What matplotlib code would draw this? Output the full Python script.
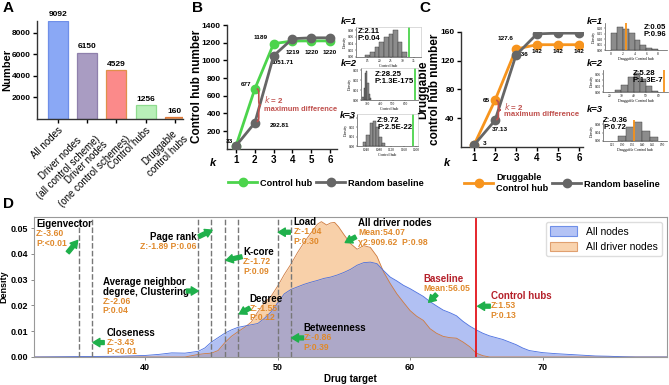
import numpy as np
import matplotlib.pyplot as plt
from matplotlib.path import Path
from matplotlib.patches import PathPatch, Patch
from matplotlib.lines import Line2D

plt.rcParams['font.family'] = ['Liberation Sans', 'DejaVu Sans']

# ---- datos panel A
a_labels = ['All nodes', 'Driver nodes\n(all control scheme)', 'Driver nodes\n(one control schemes)',
            'Control hubs', 'Druggable\ncontrol hubs']
a_values = [9092, 6150, 4529, 1256, 160]
a_colors = ['#8aa8f5', '#a99cc2', '#fb8a8a', '#b8efb8', '#f4a46a']
a_edges = ['#6f8fe8', '#8f80ac', '#e0904a', '#8fdc8f', '#e07a3a']

# ---- datos paneles B y C
k_vals = [1, 2, 3, 4, 5, 6]
b_hub = [33, 677, 1189, 1219, 1220, 1220]
b_random = [33, 292.81, 1051.71, 1245, 1255, 1255]
c_hub = [3, 65, 136, 142, 142, 142]
c_random = [3, 37.13, 127.6, 157, 158, 158]

# histogramas de los recuadros (borde izquierdo del bin, densidad)
b1_bins = [14, 16, 18, 20, 22, 24, 26, 28, 30]
b1_dens = [0.005, 0.015, 0.03, 0.045, 0.06, 0.07, 0.08, 0.045, 0.015]
b2_bins = [260, 270, 280, 290, 300, 310, 320]
b2_dens = [0.003, 0.012, 0.027, 0.029, 0.017, 0.006, 0.002]
b3_bins = [1030, 1040, 1050, 1060, 1070, 1080, 1090]
b3_dens = [0.004, 0.012, 0.024, 0.027, 0.02, 0.01, 0.003]
c1_bins = [0, 1, 2, 3, 4, 5, 6, 7]
c1_dens = [0.16, 0.21, 0.19, 0.16, 0.09, 0.05, 0.02, 0.01]
c2_bins = [25, 30, 35, 40, 45, 50, 55]
c2_dens = [0.008, 0.025, 0.05, 0.065, 0.045, 0.02, 0.005]
c3_bins = [128, 132, 136, 140, 144]
c3_dens = [0.025, 0.065, 0.09, 0.05, 0.02]

# ---- datos panel D
d_all_x = [31.6, 34, 36, 38, 40, 41, 42, 43, 44,
           44.5, 45, 45.5, 46, 46.5, 47, 47.5, 48, 48.5, 49, 49.5, 50, 50.5, 51, 51.5, 52, 52.5,
           53, 53.5, 54, 54.5, 55, 55.5, 56, 56.5, 57, 57.5, 58, 58.5, 59, 59.5, 60, 60.5, 61,
           61.5, 62, 62.5, 63, 63.5, 64, 64.5, 65, 65.5, 66, 66.5, 67, 67.5, 68, 68.5, 69,
           70, 71, 72, 73, 74, 75, 76, 77, 79.4]
d_all_y = [0, 0.0001, 0.0002, 0.0003, 0.0006, 0.001, 0.0016, 0.0015, 0.0022,
           0.0035, 0.0058, 0.0075, 0.0092, 0.0105, 0.0115, 0.012, 0.0125, 0.013, 0.015, 0.0175,
           0.021, 0.0245, 0.0262, 0.0272, 0.0282, 0.029, 0.0297, 0.0305, 0.031, 0.0318, 0.0328,
           0.034, 0.0356, 0.0366, 0.0368, 0.0362, 0.0335, 0.031, 0.0295, 0.0278, 0.0265, 0.025,
           0.0235, 0.0215, 0.0198, 0.0182, 0.0172, 0.016, 0.0138, 0.012, 0.0105, 0.0092, 0.0082,
           0.0075, 0.0068, 0.0058, 0.0048, 0.0035, 0.0025,
           0.0017, 0.0013, 0.001, 0.0007, 0.0004, 0.0003, 0.0001, 0, 0]
d_drv_x = [31.6, 43, 43.5, 44, 44.5, 45, 45.5, 46, 46.5, 47, 47.5, 48, 48.5, 49, 49.5, 50,
           50.5, 51, 51.5, 52, 52.5, 53, 53.3, 53.7, 54, 54.3, 54.6, 55, 55.5, 56, 56.5, 57,
           57.5, 58, 58.5, 59, 59.5, 60, 60.5, 61, 61.5, 62, 62.5, 63, 63.5, 64, 64.5, 65,
           65.5, 66, 79.4]
d_drv_y = [0, 0, 0.0005, 0.001, 0.0013, 0.0015, 0.0025, 0.0055, 0.008, 0.0098, 0.0115, 0.0135,
           0.0175, 0.021, 0.0235, 0.0275, 0.032, 0.036, 0.0405, 0.0445, 0.048, 0.0515, 0.0525,
           0.0512, 0.052, 0.0522, 0.0505, 0.0475, 0.044, 0.0418, 0.0432, 0.0425, 0.039, 0.033,
           0.0285, 0.0245, 0.0212, 0.018, 0.0158, 0.0142, 0.011, 0.0092, 0.008, 0.0075, 0.0073,
           0.0058, 0.004, 0.0015, 0.0005, 0, 0]
d_vlines = [35, 36, 44, 45, 46, 47, 50, 51]
d_hub_line = 65

W, H = 669, 385
fig = plt.figure(figsize=(W / 100, H / 100), dpi=100)

GREEN = '#4cd44c'
GRAY = '#666666'
ORANGE = '#f7941d'
BRACE_RED = '#c0504d'
TXT_OR = '#e0892b'
DARK_RED = '#b5202a'
ARROW_G = '#1fb04b'


def px_axes(l, t, r, b):
    return fig.add_axes([l / W, 1 - b / H, (r - l) / W, (b - t) / H])


def fig_text(x, y, s, **kw):
    fig.text(x / W, 1 - y / H, s, **kw)


def brace(ax, x, y0, y1, w, d, color):
    ym = (y0 + y1) / 2
    xm = x + w / 2
    verts = [(x, y1), (xm, y1), (xm, y1 - d), (xm, ym + d), (xm, ym), (x + w, ym),
             (xm, ym), (xm, ym - d), (xm, y0 + d), (xm, y0), (x, y0)]
    codes = [Path.MOVETO, Path.CURVE3, Path.CURVE3, Path.LINETO, Path.CURVE3, Path.CURVE3,
             Path.CURVE3, Path.CURVE3, Path.LINETO, Path.CURVE3, Path.CURVE3]
    ax.add_patch(PathPatch(Path(verts, codes), fc='none', ec=color, lw=1.2, zorder=5))


def style_prism(ax):
    for s in ['top', 'right']:
        ax.spines[s].set_visible(False)
    for s in ['left', 'bottom']:
        ax.spines[s].set_linewidth(1.0)
        ax.spines[s].set_color('#333333')
    ax.tick_params(length=3, width=1.0, labelsize=6, pad=1.5)
    for lab in ax.get_yticklabels() + ax.get_xticklabels():
        lab.set_fontweight('bold')


# ======== A
axA = px_axes(37, 21, 183, 119)
xa = np.arange(len(a_values))
axA.bar(xa, a_values, width=0.68, color=a_colors, edgecolor=a_edges, linewidth=0.9)
for xi, v in zip(xa, a_values):
    axA.text(xi, v + 250, f'{v}', ha='center', va='bottom', fontsize=6, fontweight='bold')
axA.set_xlim(-0.72, 4.28)
axA.set_ylim(0, 9100)
axA.set_yticks([2000, 4000, 6000, 8000])
axA.set_xticks(xa)
axA.set_xticklabels(a_labels, rotation=45, ha='right', rotation_mode='anchor',
                    fontsize=7, multialignment='center')
style_prism(axA)
for lab in axA.get_xticklabels():
    lab.set_fontweight('normal')
    lab.set_fontsize(7)
axA.set_ylabel('Number', fontsize=8, fontweight='bold')
axA.yaxis.set_label_coords(-0.17, 0.5)


# ======== B y C (lineas)
def line_panel(box, hub, rnd, hub_color, ylim, yticks, ylabel, ylab_x):
    ax = px_axes(*box)
    ax.plot(k_vals, hub, color=hub_color, marker='o', ms=6, lw=2, zorder=3)
    ax.plot(k_vals, rnd, color=GRAY, marker='o', ms=6, lw=2, zorder=4)
    ax.set_ylim(*ylim)
    ax.set_yticks(yticks)
    ax.set_xticks(k_vals)
    style_prism(ax)
    ax.tick_params(axis='x', labelsize=7)
    ax.set_ylabel(ylabel, fontsize=8.5, fontweight='bold', linespacing=1.0)
    ax.yaxis.set_label_coords(ylab_x, 0.5)
    return ax


axB = line_panel((227, 25, 337, 148.7), b_hub, b_random, GREEN, (0, 1400),
                 [200, 400, 600, 800, 1000, 1200, 1400], 'Control hub number', -0.22)
axB.set_xlim(0.52, 6.37)
lab = dict(fontsize=4.6, fontweight='bold')
axB.text(0.85, b_hub[0] + 45, '33', ha='right', va='center', **lab)
axB.text(1.8, b_hub[1] + 45, '677', ha='right', va='center', **lab)
axB.text(2.7, b_hub[2] + 65, '1189', ha='right', va='center', **lab)
axB.text(3.45, b_random[2] - 75, '1051.71', ha='center', va='center', **lab)
axB.text(2.8, b_random[1] - 35, '292.81', ha='left', va='center', **lab)
for kk, v in zip(k_vals[3:], b_hub[3:]):
    axB.text(kk, v - 135, f'{v}', ha='center', va='center', **lab)
brace(axB, 2.1, b_random[1] + 15, b_hub[1], 0.22, 45, BRACE_RED)
axB.text(2.5, 555, r'$\mathit{k}$ = 2', color=BRACE_RED, fontsize=5.8, fontweight='bold', va='center')
axB.text(2.5, 445, 'maximum difference', color=BRACE_RED, fontsize=5.4, fontweight='bold',
         va='center', zorder=10)

axC = line_panel((461, 31.7, 583, 147.2), c_hub, c_random, ORANGE, (0, 160),
                 [40, 80, 120, 160], 'Druggable\ncontrol hub number', -0.165)
axC.set_xlim(0.38, 6.19)
axC.text(1.4, c_hub[0] + 2, '3', ha='left', va='center', **lab)
axC.text(1.76, c_hub[1], '65', ha='right', va='center', **lab)
axC.text(1.85, c_random[1] - 12, '37.13', ha='left', va='center', **lab)
axC.text(2.9, 150, '127.6', ha='right', va='center', **lab)
axC.text(3.32, c_hub[2] - 8, '136', ha='center', va='center', **lab)
for kk, v in zip(k_vals[3:], c_hub[3:]):
    axC.text(kk, v - 10, f'{v}', ha='center', va='center', **lab)
brace(axC, 2.05, c_random[1] + 1, c_hub[1], 0.22, 4, BRACE_RED)
axC.text(2.45, 57, r'$\mathit{k}$ = 2', color=BRACE_RED, fontsize=5.8, fontweight='bold', va='center')
axC.text(2.45, 45.5, 'maximum difference', color=BRACE_RED, fontsize=5.6, fontweight='bold', va='center')

for xk in (213, 447):
    fig_text(xk, 163, 'k', fontsize=8, fontweight='bold', style='italic', ha='center', va='center')

legkw = dict(frameon=False, handlelength=3.2, columnspacing=0.4, handletextpad=0.3,
             ncol=2, loc='center', prop={'weight': 'bold', 'size': 6.6})
fig.legend([Line2D([], [], color=GREEN, marker='o', ms=6, lw=2),
            Line2D([], [], color=GRAY, marker='o', ms=6, lw=2)],
           ['Control hub', 'Random baseline'], bbox_to_anchor=(326 / W, 1 - 183 / H), **legkw)
fig.legend([Line2D([], [], color=ORANGE, marker='o', ms=6, lw=2),
            Line2D([], [], color=GRAY, marker='o', ms=6, lw=2)],
           ['Druggable\nControl hub', 'Random baseline'], bbox_to_anchor=(562 / W, 1 - 183 / H),
           **legkw)


# ======== recuadros de histogramas
def inset(box, bins, dens, width, line_x, line_color, xlim, xticks, ylim, yticks,
          xlabel, ztext, zx, zy, zha='left', full_frame=True):
    ax = px_axes(*box)
    ax.bar(bins, dens, width=width, align='edge', color='#8c8c8c', edgecolor='#333333', linewidth=0.3)
    ax.axvline(line_x, color=line_color, lw=1.3)
    ax.set_xlim(*xlim)
    ax.set_ylim(*ylim)
    ax.set_xticks(xticks)
    ax.set_yticks(yticks)
    ax.tick_params(labelsize=2.5, length=1, width=0.3, pad=0.5)
    for t in ax.get_xticklabels() + ax.get_yticklabels():
        t.set_family('Liberation Serif')
    ax.set_xlabel(xlabel, fontsize=2.8, labelpad=0.5, family='Liberation Serif')
    ax.set_ylabel('Density', fontsize=2.8, labelpad=0.5, family='Liberation Serif')
    for s in ax.spines.values():
        s.set_linewidth(0.5)
        s.set_color('#555555')
    if full_frame:
        ax.spines['top'].set_color('#cccccc')
        ax.spines['right'].set_color('#cccccc')
    else:
        ax.spines['top'].set_visible(False)
        ax.spines['right'].set_visible(False)
    ax.text(zx, zy, ztext, transform=ax.transAxes, fontsize=5.6, fontweight='bold', ha=zha,
            va='top', linespacing=1.0)
    return ax


inset((356, 27, 421, 57), b1_bins, b1_dens, 2, 33, GREEN, (10, 38), [15, 20, 25, 30, 35],
      (0, 0.09), [0, 0.02, 0.04, 0.06, 0.08], 'Control hub', 'Z:2.11\nP:0.04', 0.03, 0.98)
inset((361, 68, 418, 100), b2_bins, b2_dens, 10, 677, GREEN, (250, 700), [300, 400, 500, 600],
      (0, 0.032), [0, 0.01, 0.02, 0.03], 'Control hub', 'Z:28.25\nP:1.3E-175', 0.24, 0.92)
inset((357, 114, 418, 146), b3_bins, b3_dens, 10, 1189, GREEN, (1010, 1205),
      [1040, 1080, 1120, 1160, 1200], (0, 0.034), [0, 0.01, 0.02, 0.03], 'Control hub',
      'Z:9.72\nP:2.5E-22', 0.33, 0.92)
inset((605, 23, 667, 50), c1_bins, c1_dens, 1, 2.6, ORANGE, (-1, 9.5), [0, 2, 4, 6, 8],
      (0, 0.25), [0, 0.05, 0.10, 0.15, 0.20], 'Druggable Control hub', 'Z:0.05\nP:0.96',
      0.99, 0.95, zha='right', full_frame=False)
inset((603, 70, 668, 92), c2_bins, c2_dens, 5, 65, ORANGE, (15, 68), [20, 30, 40, 50, 60],
      (0, 0.075), [0, 0.02, 0.04, 0.06], 'Druggable Control hub', 'Z:5.28\nP:1.3E-7',
      0.46, 0.98, full_frame=False)
inset((603, 120, 667, 141), c3_bins, c3_dens, 4, 136, ORANGE, (120.5, 152.5),
      [125, 130, 135, 140, 145, 150], (0, 0.10), [0, 0.04, 0.08], 'Druggable Control hub',
      'Z:-0.36\nP:0.72', 0.0, 1.12, full_frame=False)

for xk, yk, s in [(341, 21, 'k=1'), (341, 64, 'k=2'), (340, 116, 'k=3'),
                  (587, 21, 'k=1'), (587, 64, 'k=2'), (587, 110, 'k=3')]:
    fig_text(xk, yk, s, fontsize=6.8, fontweight='bold', style='italic', va='center')

# ======== D
axD = px_axes(34, 217, 667, 357)
axD.fill_between(d_drv_x, d_drv_y, color='#f09134', alpha=0.42, lw=0)
axD.plot(d_drv_x, d_drv_y, color='#cf7b3f', lw=0.6)
axD.fill_between(d_all_x, d_all_y, color='#6482e8', alpha=0.5, lw=0)
axD.plot(d_all_x, d_all_y, color='#4a6fe0', lw=0.6)
for xv in d_vlines:
    axD.axvline(xv, color='#777777', ls=(0, (4, 1.6)), lw=1.0)
axD.axvline(d_hub_line, color='#e3151b', lw=1.3)
axD.set_xlim(31.6, 79.4)
axD.set_ylim(0, 0.0543)
axD.set_xticks([40, 50, 60, 70])
axD.set_yticks([0, 0.01, 0.02, 0.03, 0.04, 0.05])
axD.yaxis.set_major_formatter(plt.FormatStrFormatter('%.2f'))
axD.tick_params(labelsize=6.5, length=2, width=0.6, pad=2, color='#777777')
for t in axD.get_xticklabels() + axD.get_yticklabels():
    t.set_fontweight('bold')
for s in axD.spines.values():
    s.set_color('#999999')
    s.set_linewidth(0.8)
axD.set_xlabel('Drug target', fontsize=7, fontweight='bold', labelpad=2)
axD.set_ylabel('Density', fontsize=6.5, fontweight='bold', labelpad=2)

step = 0.0037


def dlabel(x, y, title, stats, tcolor='black', ha='left'):
    axD.text(x, y, title, fontsize=7, fontweight='bold', color=tcolor, ha=ha, va='center')
    for i, s in enumerate(stats):
        axD.text(x, y - step * (i + 1), s, fontsize=6.2, fontweight='bold', color=TXT_OR,
                 ha=ha, va='center')


def darrow(x0, y0, x1, y1):
    axD.annotate('', xy=(x1, y1), xytext=(x0, y0),
                 arrowprops=dict(arrowstyle='simple,head_length=0.5,head_width=0.6,tail_width=0.28',
                                 color=ARROW_G, shrinkA=0, shrinkB=0, mutation_scale=10))


dlabel(31.75, 0.0515, 'Eigenvector', ['Z:-3.60', 'P:<0.01'])
darrow(34.15, 0.0405, 34.9, 0.0452)
dlabel(43.85, 0.0467, 'Page rank', ['Z:-1.89 P:0.06'], ha='right')
darrow(44.05, 0.0467, 45.05, 0.0492)
dlabel(36.8, 0.0291, 'Average neighbor', [])
dlabel(36.8, 0.0254, 'degree, Clustering', ['Z:-2.06', 'P:0.04'])
darrow(43.1, 0.0256, 44.0, 0.0256)
dlabel(37.1, 0.0094, 'Closeness', ['Z:-3.43', 'P:<0.01'])
darrow(36.9, 0.0056, 36.05, 0.0056)
dlabel(47.4, 0.0407, 'K-core', ['Z:-1.72', 'P:0.09'])
darrow(47.3, 0.0389, 46.1, 0.0375)
dlabel(47.9, 0.0226, 'Degree', ['Z:-1.55', 'P:0.12'])
darrow(47.9, 0.019, 47.1, 0.0167)
dlabel(51.2, 0.0523, 'Load', ['Z:-1.04', 'P:0.30'])
darrow(50.95, 0.0484, 50.05, 0.0484)
dlabel(51.95, 0.0112, 'Betweenness', ['Z:-0.86', 'P:0.39'])
darrow(51.95, 0.0074, 51.05, 0.0074)
dlabel(56.1, 0.0519, 'All driver nodes', ['Mean:54.07', 'χ2:909.62  P:0.98'])
darrow(55.9, 0.0466, 55.1, 0.0444)
dlabel(61.0, 0.0301, 'Baseline', ['Mean:56.05'], tcolor=DARK_RED)
darrow(62.0, 0.0243, 61.4, 0.0212)
dlabel(66.1, 0.0236, 'Control hubs', ['Z:1.53', 'P:0.13'], tcolor=DARK_RED)
darrow(66.05, 0.0197, 65.1, 0.0197)

axD.legend(handles=[Patch(facecolor='#b4c3f5', edgecolor='#6f8fe8', lw=0.8),
                    Patch(facecolor='#f9d3ae', edgecolor='#e0a070', lw=0.8)],
           labels=['All nodes', 'All driver nodes'], loc='upper right', fontsize=7.5,
           frameon=True, edgecolor='#dddddd', handlelength=2.6, handleheight=1.0,
           borderaxespad=0.5, framealpha=1)

# letras de panel
for xp, yp, s in [(3, 8, 'A'), (192, 8, 'B'), (419, 8, 'C'), (3, 204, 'D')]:
    fig_text(xp, yp, s, fontsize=11, fontweight='bold', va='center')

fig.savefig('out.png', dpi=100)
